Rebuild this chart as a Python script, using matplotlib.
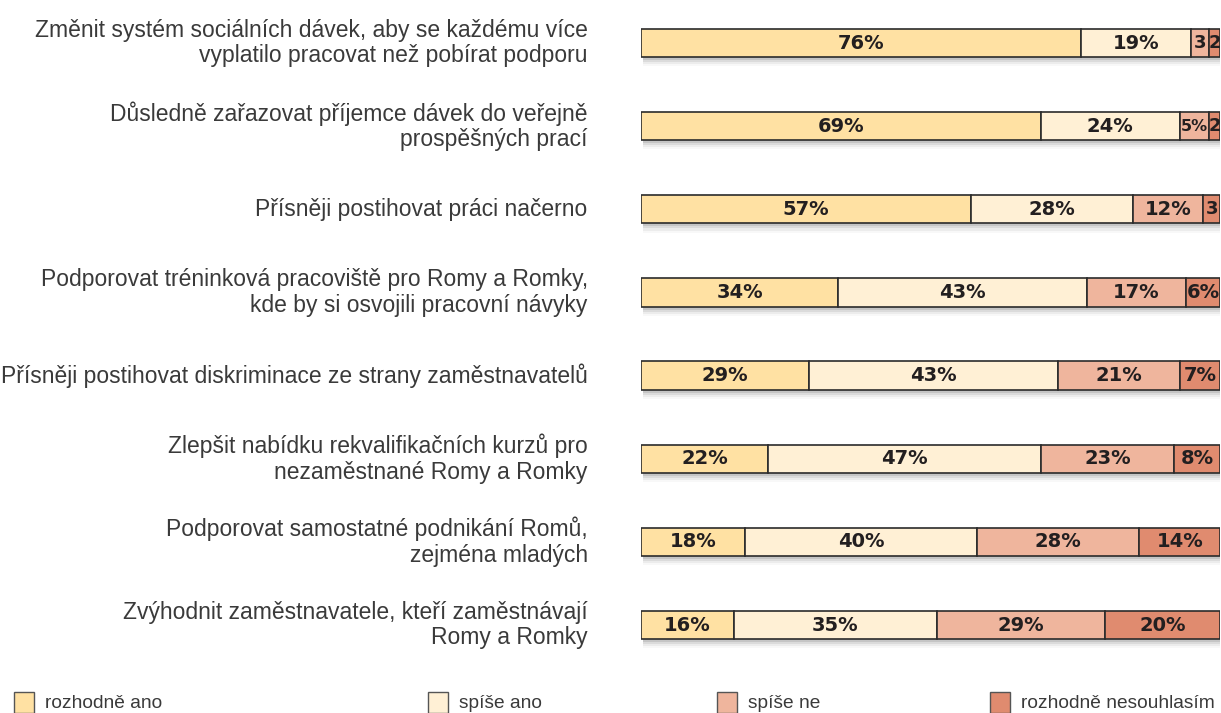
import matplotlib.pyplot as plt
from matplotlib.patches import Rectangle

statements = [
    'Změnit systém sociálních dávek, aby se každému více\nvyplatilo pracovat než pobírat podporu',
    'Důsledně zařazovat příjemce dávek do veřejně\nprospěšných prací',
    'Přísněji postihovat práci načerno',
    'Podporovat tréninková pracoviště pro Romy a Romky,\nkde by si osvojili pracovní návyky',
    'Přísněji postihovat diskriminace ze strany zaměstnavatelů',
    'Zlepšit nabídku rekvalifikačních kurzů pro\nnezaměstnané Romy a Romky',
    'Podporovat samostatné podnikání Romů,\nzejména mladých',
    'Zvýhodnit zaměstnavatele, kteří zaměstnávají\nRomy a Romky',
]
categories = ['rozhodně ano', 'spíše ano', 'spíše ne', 'rozhodně nesouhlasím']
rozhodne_ano = [76, 69, 57, 34, 29, 22, 18, 16]
spise_ano = [19, 24, 28, 43, 43, 47, 40, 35]
spise_ne = [3, 5, 12, 17, 21, 23, 28, 29]
rozhodne_ne = [2, 2, 3, 6, 7, 8, 14, 20]

colors = ['#FFE1A3', '#FFF0D5', '#EFB59D', '#E08B6F']
series = [rozhodne_ano, spise_ano, spise_ne, rozhodne_ne]

plt.rcParams['font.family'] = ['Liberation Sans', 'DejaVu Sans']

fig = plt.figure(figsize=(12.21, 7.13), dpi=100)
ax = fig.add_axes([0.525, 0.065, 0.4745, 0.933])
ax.set_xlim(0, 100)
ax.set_ylim(7.5, -0.5)
ax.axis('off')

h = 0.34
ypos = list(range(len(statements)))

# soft drop shadow under each bar
for k, a in enumerate([0.16, 0.11, 0.07, 0.04]):
    ax.barh([y + 0.035 + 0.025 * k for y in ypos], [100] * len(ypos), height=h,
            left=0.3, color='#555555', alpha=a, linewidth=0, zorder=1)

left = [0] * len(ypos)
for vals, c in zip(series, colors):
    ax.barh(ypos, vals, height=h, left=left, color=c, edgecolor='#2b2b2b',
            linewidth=1.2, zorder=3)
    for y, v, l in zip(ypos, vals, left):
        if v >= 5:
            txt = f'{v}%'
        else:
            txt = str(v)
        if v == 5:
            fs = 11.5
        elif v < 5:
            fs = 13
        else:
            fs = 14
        ax.text(l + v / 2, y, txt, ha='center', va='center', fontsize=fs,
                fontweight='bold', color='#231F20', zorder=4,
                family='DejaVu Sans')
    left = [l + v for l, v in zip(left, vals)]

for y, s in zip(ypos, statements):
    ax.text(-9.2, y, s, ha='right', va='center', fontsize=16.5,
            color='#3a3a3a', linespacing=1.15, transform=ax.transData,
            clip_on=False)

# legend along the bottom
leg_x = [14, 428, 717, 990]
for x, c, lab in zip(leg_x, colors, categories):
    fig.patches.append(Rectangle((x / 1221, 0), 20 / 1221, 21 / 713,
                                 transform=fig.transFigure, facecolor=c,
                                 edgecolor='#555555', linewidth=1))
    fig.text((x + 31) / 1221, 1 - 703 / 713, lab, ha='left', va='center',
             fontsize=13.8, color='#3a3a3a')

fig.savefig('out.png', dpi=100)
